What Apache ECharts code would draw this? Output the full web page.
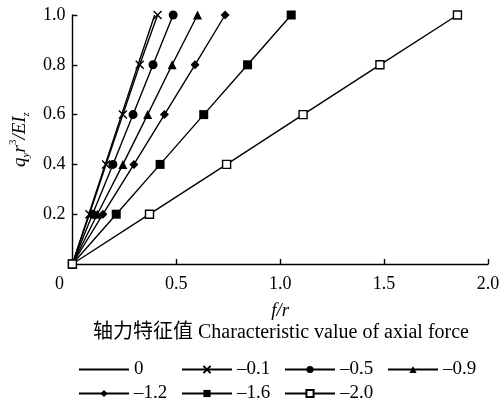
<!DOCTYPE html>
<html>
<head>
<meta charset="utf-8">
<script src="https://cdn.jsdelivr.net/npm/echarts@6/dist/echarts.min.js"></script>
<style>
  html, body { margin: 0; padding: 0; background: #fff; }
  #chart { width: 504px; height: 404px; }
</style>
</head>
<body>
<div id="chart"></div>
<script>
// 纵轴 q_y r^3/EI_z 的取值
var loads = [0, 0.2, 0.4, 0.6, 0.8, 1.0];
// 轴力特征值
var names = ['0', '–0.1', '–0.5', '–0.9', '–1.2', '–1.6', '–2.0'];
// 各轴力特征值下的 f/r
var f0 = [0, 0.079, 0.158, 0.237, 0.316, 0.396];
var f01 = [0, 0.082, 0.162, 0.243, 0.324, 0.41];
var f05 = [0, 0.097, 0.195, 0.292, 0.388, 0.485];
var f09 = [0, 0.12, 0.243, 0.362, 0.48, 0.602];
var f12 = [0, 0.147, 0.296, 0.443, 0.59, 0.735];
var f16 = [0, 0.211, 0.422, 0.632, 0.843, 1.053];
var f20 = [0, 0.371, 0.742, 1.11, 1.48, 1.853];
var xTicks = ['0', '0.5', '1.0', '1.5', '2.0'];

var serif = 'Liberation Serif, Noto Sans CJK SC';

function pairs(xs) {
  return xs.map(function (x, i) { return [x, loads[i]]; });
}

var marks = [
  { symbol: 'none' },
  { symbol: 'path://M0,0L10,10M10,0L0,10', size: 8, style: { color: '#000', borderColor: '#000', borderWidth: 1.4 } },
  { symbol: 'circle' },
  { symbol: 'triangle' },
  { symbol: 'diamond' },
  { symbol: 'rect' },
  { symbol: 'rect', size: 8, style: { color: '#fff', borderColor: '#000', borderWidth: 1.4 } }
];
var values = [f0, f01, f05, f09, f12, f16, f20];

var series = values.map(function (xs, k) {
  return {
    name: names[k],
    type: 'line',
    data: pairs(xs),
    symbol: marks[k].symbol,
    symbolSize: marks[k].size || 9,
    showAllSymbol: true,
    lineStyle: { color: '#000', width: 1.4 },
    itemStyle: marks[k].style || { color: '#000' },
    animation: false,
    z: 2 + k
  };
});

// 图例：第一项只画线
var legendData = names.map(function (n, k) {
  return k === 0 ? { name: n, itemStyle: { opacity: 0 } } : { name: n };
});

var myChart = echarts.init(document.getElementById('chart'));
myChart.setOption({
  backgroundColor: '#fff',
  textStyle: { fontFamily: serif, color: '#000' },
  grid: { left: 70, right: 16, top: 15, bottom: 140 },
  xAxis: {
    type: 'value',
    min: 0,
    max: 2,
    interval: 0.5,
    name: 'f/r',
    nameLocation: 'middle',
    nameGap: 37,
    nameTextStyle: { fontSize: 19, fontStyle: 'italic', fontFamily: serif, color: '#000' },
    axisLine: { lineStyle: { color: '#000', width: 1.4 } },
    axisTick: { inside: true, length: 5, lineStyle: { color: '#000', width: 1.4 } },
    splitLine: { show: false },
    axisLabel: {
      margin: 11,
      fontSize: 18,
      fontFamily: serif,
      color: '#000',
      formatter: function (v) {
        var i = Math.round(v / 0.5);
        return i === 0 ? '{o|' + xTicks[0] + '}' : xTicks[i];
      },
      rich: { o: { fontSize: 18, fontFamily: serif, color: '#000', padding: [0, 26, 0, 0] } }
    }
  },
  yAxis: {
    type: 'value',
    min: 0,
    max: 1,
    interval: 0.2,
    name: '{i|q}{sub|y}{i|r}{sup|3}{i|/EI}{sub|z}',
    nameLocation: 'middle',
    nameRotate: 90,
    nameGap: 37,
    nameTextStyle: {
      rich: {
        i: { fontSize: 19, fontStyle: 'italic', fontFamily: serif, color: '#000', lineHeight: 24, verticalAlign: 'middle' },
        sub: { fontSize: 11, fontStyle: 'italic', fontFamily: serif, color: '#000', lineHeight: 24, verticalAlign: 'bottom' },
        sup: { fontSize: 11, fontFamily: serif, color: '#000', lineHeight: 24, verticalAlign: 'top' }
      }
    },
    axisLine: { show: true, lineStyle: { color: '#000', width: 1.4 } },
    axisTick: { show: true, inside: true, length: 5, lineStyle: { color: '#000', width: 1.4 } },
    splitLine: { show: false },
    axisLabel: {
      margin: 7,
      fontSize: 18,
      fontFamily: serif,
      color: '#000',
      formatter: function (v) { return v === 0 ? '' : v.toFixed(1); }
    }
  },
  legend: {
    data: legendData,
    left: 73,
    top: 355,
    width: 420,
    itemWidth: 50,
    itemHeight: 9,
    itemGap: 5,
    textStyle: { fontSize: 19, fontFamily: serif, color: '#000', width: 42, lineHeight: 19 }
  },
  graphic: [{
    type: 'text',
    x: 281,
    y: 333,
    style: {
      text: '轴力特征值 Characteristic value of axial force',
      font: '20px ' + serif,
      fill: '#000',
      align: 'center',
      verticalAlign: 'middle'
    }
  }],
  series: series
});
</script>
</body>
</html>
